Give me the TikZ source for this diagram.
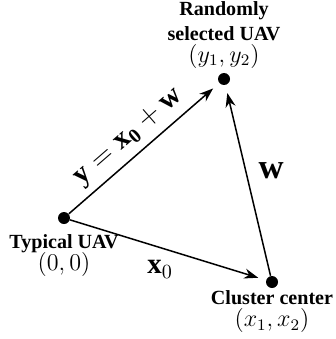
\documentclass[tikz,border=0pt]{standalone}
\usepackage{amsmath}
\usepackage{fontspec}
\setmainfont{Liberation Serif}
\usepackage{tikz}
\usetikzlibrary{arrows.meta, positioning}

\begin{document}
\begin{tikzpicture}[
  x=0.0175cm, y=-0.0175cm,
  uav/.style={circle, fill=black, inner sep=0pt, minimum size=12*0.0175cm},
  lbl/.style={align=center, inner sep=0pt, font=\bfseries},
  vec/.style={line width=0.75pt, -{Stealth[length=7pt, width=5pt]}, shorten >=4pt},
  edgelbl/.style={inner sep=0pt}
]
  \useasboundingbox (0,0) rectangle (335,339);

  % --- Nodes ---
  \node[uav] (typ) at (64,218) {};
  \node[uav] (rnd) at (224,79) {};
  \node[uav] (ctr) at (272,282) {};

  \node[lbl, above=2pt of rnd] (rndlbl) {Randomly\\selected UAV\\[-1pt]\mdseries\large$(y_1,y_2)$};
  \node[lbl, below=5pt of typ] (typlbl) {Typical UAV\\[-1pt]\mdseries\large$(0,0)$};
  \node[lbl, below=1pt of ctr] (ctrlbl) {Cluster center\\[-1pt]\mdseries\large$(x_1,x_2)$};

  % --- Vectors ---
  \draw[vec] (typ) -- node[edgelbl, sloped, above=3pt, pos=0.48, font=\Large] (ylbl)
    {$\mathbf{y}=\mathbf{x_0}+\mathbf{w}$} (rnd);
  \draw[vec] (ctr) -- node[edgelbl, right=6pt, pos=0.55, font=\LARGE] (wlbl)
    {$\mathbf{w}$} (rnd);
  \draw[vec] (typ) -- node[edgelbl, below=6pt, pos=0.46, font=\Large] (xlbl)
    {$\mathbf{x}_0$} (ctr);

\end{tikzpicture}
\end{document}
